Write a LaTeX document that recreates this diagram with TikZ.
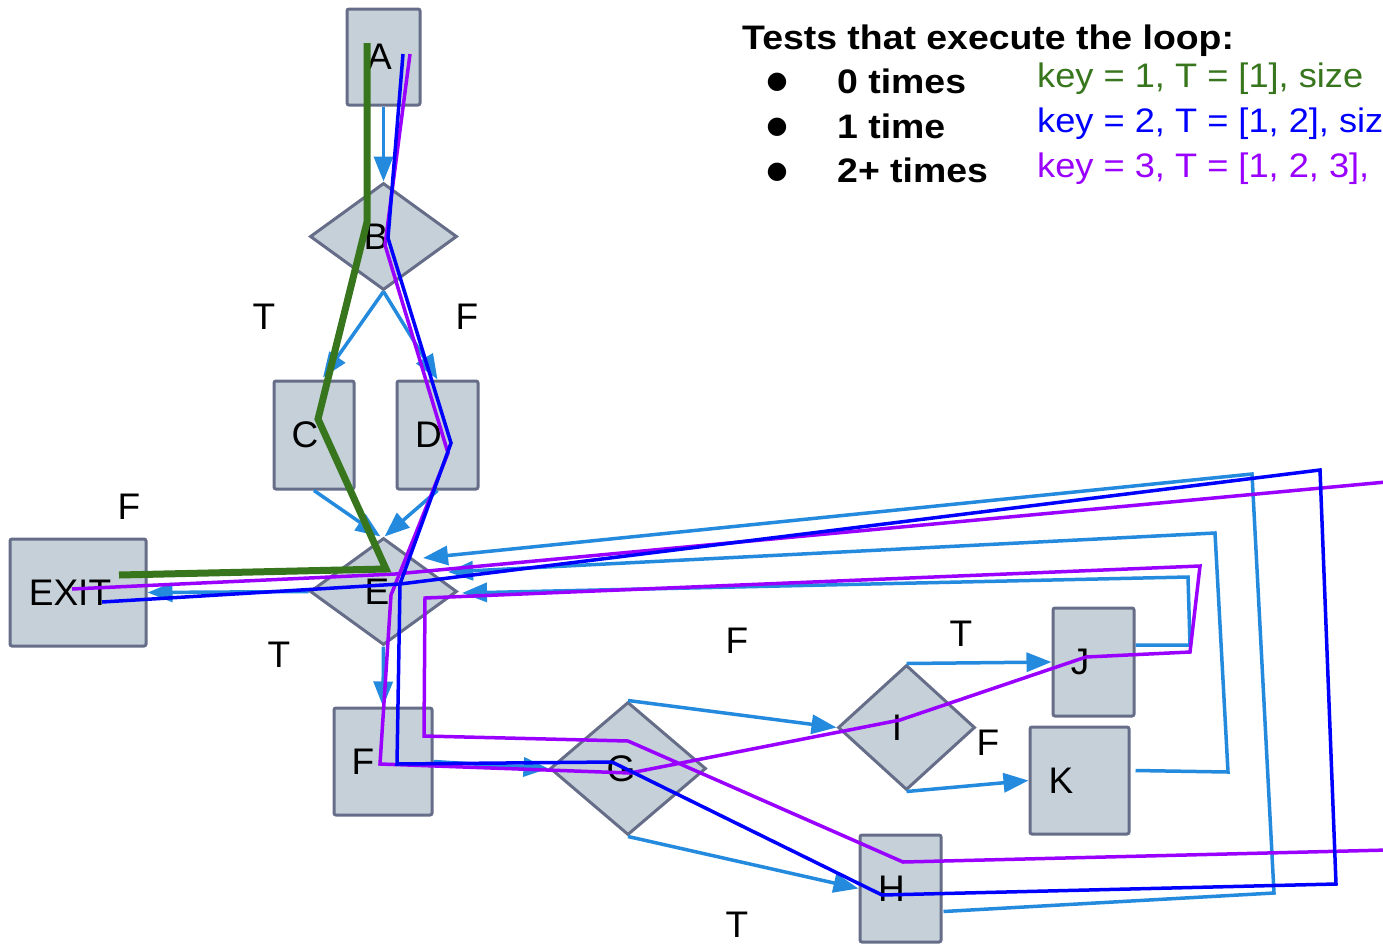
\documentclass[tikz,border=0pt]{standalone}
\usepackage{fontspec}
\setmainfont{Liberation Sans}
\newfontfamily\legendfont[FakeStretch=1.065]{Liberation Sans}
\newfontfamily\titlefont[FakeStretch=1.1]{Liberation Sans}
\newfontfamily\bulletfont{DejaVu Sans}
\usetikzlibrary{shapes.geometric,arrows.meta,calc}
\definecolor{nodefill}{RGB}{197,208,216}
\definecolor{nodeline}{RGB}{102,109,136}
\definecolor{flow}{RGB}{36,138,222}
\definecolor{pathgreen}{RGB}{56,118,29}
\definecolor{pathblue}{RGB}{0,0,255}
\definecolor{pathpurple}{RGB}{153,0,255}
\newcommand{\shiftlbl}[3]{\raisebox{#2pt}{\kern#1pt #3\kern-#1pt}}
\tikzset{
  box/.style={rectangle, draw=nodeline, fill=nodefill, line width=3pt, rounded corners=2pt, inner sep=0pt, font=\fontsize{37}{42}\selectfont},
  dia/.style={diamond, draw=nodeline, fill=nodefill, line width=3pt, inner sep=0pt, font=\fontsize{37}{42}\selectfont},
  lbl/.style={inner sep=0pt, font=\fontsize{37}{42}\selectfont},
  flowarrow/.style={draw=flow, line width=3.5pt, -{Triangle[length=25pt,width=19pt]}},
  greenpath/.style={draw=pathgreen, line width=7pt},
  bluepath/.style={draw=pathblue, line width=3.5pt},
  purplepath/.style={draw=pathpurple, line width=3.5pt},
  legtitle/.style={anchor=base west, inner sep=0pt, font=\titlefont\bfseries\fontsize{34}{40}\selectfont},
  legbullet/.style={inner sep=0pt, font=\bulletfont\fontsize{24}{26}\selectfont},
  legkey/.style={anchor=base west, inner sep=0pt, font=\legendfont\fontsize{34}{40}\selectfont}
}
\begin{document}
\begin{tikzpicture}[x=1pt,y=-1pt]
\useasboundingbox (0,0) rectangle (1383,943);
\fill[white] (0,0) rectangle (1383,943);
\clip (0,0) rectangle (1383,943);

% nodes
\node[box, minimum width=73pt, minimum height=96pt] (A) at (383.5,57) {\shiftlbl{-4}{-2}{A}};
\node[dia, minimum width=147pt, minimum height=107pt] (B) at (383.5,236.5) {\shiftlbl{-7.5}{-2}{B}};
\node[box, minimum width=80pt, minimum height=108pt] (C) at (314,435) {\shiftlbl{-9}{-2}{C}};
\node[box, minimum width=81pt, minimum height=108pt] (D) at (437.5,435) {\shiftlbl{-9}{-2}{D}};
\node[box, minimum width=136pt, minimum height=107pt] (EXIT) at (78,592.5) {\shiftlbl{-8}{-2}{EXIT}};
\node[dia, minimum width=147pt, minimum height=107pt] (E) at (383.5,591.5) {\shiftlbl{-6.5}{-2}{E}};
\node[box, minimum width=98pt, minimum height=107pt] (F) at (383,761.5) {\shiftlbl{-20}{-2}{F}};
\node[dia, minimum width=156pt, minimum height=133pt] (G) at (628,768.5) {\shiftlbl{-7}{-2}{G}};
\node[box, minimum width=81pt, minimum height=107pt] (H) at (900.5,888.5) {\shiftlbl{-9}{0}{H}};
\node[dia, minimum width=137pt, minimum height=125pt] (I) at (906.5,727.5) {\shiftlbl{-9.5}{0}{I}};
\node[box, minimum width=81pt, minimum height=108pt] (J) at (1093.5,662) {\shiftlbl{-13.5}{0}{J}};
\node[box, minimum width=99pt, minimum height=107pt] (K) at (1079.5,780.5) {\shiftlbl{-18.5}{0}{K}};

% edge labels
\node[lbl] (lBT) at (264,317) {T};
\node[lbl] (lBF) at (467,317) {F};
\node[lbl] (lEF) at (129,507) {F};
\node[lbl] (lET) at (279,655) {T};
\node[lbl] (lGF) at (737,641) {F};
\node[lbl] (lGT) at (737,925) {T};
\node[lbl] (lIT) at (961,634) {T};
\node[lbl] (lIF) at (988,743) {F};

% arrow end points near E
\coordinate (eJ) at (462,593);
\coordinate (eK) at (448,572);
\coordinate (eH) at (423,558);

% control flow arrows
\draw[flowarrow] (A.south) -- (B.north);
\draw[flowarrow] (B.south) -- ($(C.north)+(9,-2)$);
\draw[flowarrow] (B.south) -- (D.north);
\draw[flowarrow] (C.south) -- ($(E.north)+(-3,0)$);
\draw[flowarrow] (D.south) -- ($(E.north)+(1,0)$);
\draw[flowarrow] (E.west) -- (EXIT.east);
\draw[flowarrow] (E.south) -- (F.north);
\draw[flowarrow] (F.east) -- (G.west);
\draw[flowarrow] (G.north) -- (I.west);
\draw[flowarrow] (G.south) -- (H.west);
\draw[flowarrow] (I.north) -- (J.west);
\draw[flowarrow] (I.south) -- (K.west);
\draw[flowarrow] ($(J.east)+(0,-17)$) -- (1190,645) -- (1188,577) -- (eJ);
\draw[flowarrow] ($(K.east)+(5,-10)$) -- (1228,772) -- (1215,533) -- (eK);
\draw[flowarrow] ($(H.east)+(1,23)$) -- (1274,893) -- (1252,474) -- (eH);

% test paths
\draw[purplepath] (410,54) -- (385,245) -- (448,453) -- (391,595) -- (380,764) -- (630,773) -- (900,720) -- (1086,657) -- (1190,652) -- (1200,566) -- (425,598) -- (424,736) -- (628,741) -- (903,862) -- (1388,850) -- (1386,482) -- (395,574) -- (72,589);
\draw[bluepath] (403,54) -- (388,238) -- (451,443) -- (400,584) -- (397,764) -- (612,762) -- (882,895) -- (1336,884) -- (1320,470) -- (400,584) -- (102,602);
\draw[greenpath] (367,43) -- (367,222) -- (318,419) -- (386,569) -- (119,575);

% legend
\node[legtitle] (title) at (742,49) {Tests that execute the loop:};
\node[legbullet] (b0) at (777,82) {●};
\node[legbullet] (b1) at (777,127) {●};
\node[legbullet] (b2) at (777,172) {●};
\node[legtitle] (t0) at (837,93) {0 times};
\node[legtitle] (t1) at (837,138) {1 time};
\node[legtitle] (t2) at (837,182) {2+ times};
\node[legkey, text=pathgreen] (k0) at (1037,87) {key = 1, T = [1], size};
\node[legkey, text=pathblue] (k1) at (1037,132) {key = 2, T = [1, 2], siz};
\node[legkey, text=pathpurple] (k2) at (1037,177) {key = 3, T = [1, 2, 3],};
\end{tikzpicture}
\end{document}
